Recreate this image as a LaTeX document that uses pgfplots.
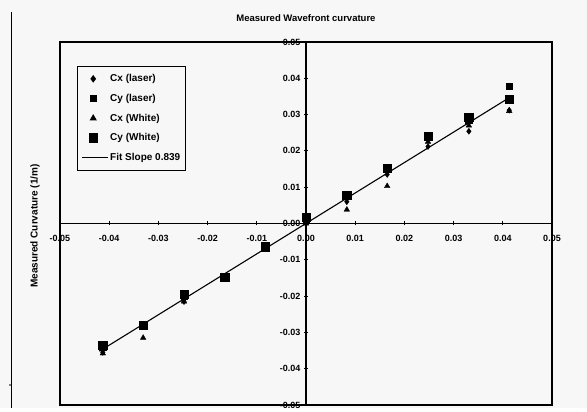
\documentclass[border=0pt]{standalone}
\usepackage{pgfplots}
\pgfplotsset{compat=1.18}
\usetikzlibrary{calc,backgrounds}
\usepackage{fontspec}
\setmainfont{Liberation Sans}
\pgfplotsset{myleg/.style={legend image code/.code={\draw[mark repeat=2,mark phase=2,##1] plot coordinates {(0pt,0pt) (11pt,0pt) (26pt,0pt)};}}}
\begin{document}
\begin{tikzpicture}[x=1pt,y=1pt]
\begin{axis}[
  scale only axis, width=492pt, height=363pt,
  xmin=-0.05, xmax=0.05, ymin=-0.05, ymax=0.05,
  axis lines=middle,
  axis line style={-, line width=1.2pt},
  axis background/.style={draw=black, line width=1.2pt},
  xtick={-0.05,-0.04,...,0.05}, ytick={-0.05,-0.04,...,0.05},
  hide obscured x ticks=false, hide obscured y ticks=false,
  tick align=center, major tick length=4pt,
  tick style={line width=0.8pt, black},
  xticklabel style={yshift=-6pt, /pgf/number format/.cd, fixed, fixed zerofill, precision=2, assume math mode=true},
  yticklabel style={/pgf/number format/.cd, fixed, fixed zerofill, precision=2, assume math mode=true},
  scaled ticks=false,
  tick label style={font=\fontsize{9}{10}\selectfont\bfseries},
  legend style={at={(0.035,0.934)}, anchor=north west, draw=black, line width=1pt,
    font=\fontsize{10}{11}\selectfont\bfseries, fill=black!3, row sep=9pt,
    inner xsep=4pt, inner ysep=7pt,
    nodes={inner xsep=1.5pt, inner ysep=1pt}},
  legend cell align=left,
  legend image post style={line width=1pt},
  clip=false,
]
\coordinate (FSW) at (rel axis cs:0,0);
\addplot[only marks, myleg, mark=diamond*, mark size=3pt, black] coordinates {
(-0.0413,-0.0355) (-0.0331,-0.0283) (-0.0248,-0.0215) (-0.0165,-0.0148) (-0.0083,-0.0068)
(0,0.0005) (0.0083,0.0060) (0.0165,0.0135) (0.0248,0.0212) (0.0331,0.0254) (0.0413,0.0312)};
\addlegendentry{Cx (laser)}
\addplot[only marks, myleg, mark=square*, mark size=3.2pt, black] coordinates {
(-0.0413,-0.0340) (-0.0331,-0.0280) (-0.0248,-0.0200) (-0.0165,-0.0150) (-0.0083,-0.0066)
(0,0.0010) (0.0083,0.0078) (0.0165,0.0155) (0.0248,0.0238) (0.0331,0.0285) (0.0413,0.0378)};
\addlegendentry{Cy (laser)}
\addplot[only marks, myleg, mark=triangle*, mark size=3.2pt, black] coordinates {
(-0.0413,-0.0358) (-0.0331,-0.0315) (-0.0248,-0.0215) (-0.0165,-0.0150) (-0.0083,-0.0072)
(0,0.0000) (0.0083,0.0038) (0.0165,0.0103) (0.0248,0.0225) (0.0331,0.0270) (0.0413,0.0310)};
\addlegendentry{Cx (White)}
\addplot[only marks, myleg, mark=square*, mark size=4.2pt, black] coordinates {
(-0.0413,-0.0335) (-0.0331,-0.0280) (-0.0248,-0.0195) (-0.0165,-0.0148) (-0.0083,-0.0064)
(0,0.0018) (0.0083,0.0078) (0.0165,0.0152) (0.0248,0.0240) (0.0331,0.0292) (0.0413,0.0342)};
\addlegendentry{Cy (White)}
\addplot[no markers, myleg, black, line width=1.1pt] coordinates {(-0.0420,-0.0352) (0.0410,0.0344)};
\addlegendentry{Fit Slope 0.839}
\end{axis}
\coordinate (O) at ($(FSW)+(-60,-3)$);
\path[use as bounding box] (O) rectangle ($(O)+(587,408)$);
\begin{scope}[on background layer]
\fill[black!3] (O) rectangle ($(O)+(587,408)$);
\end{scope}
\draw[line width=1pt] ($(O)+(12,396)$) -- ($(O)+(12,0)$);
\fill ($(O)+(10,23)$) circle (0.8);
\node[font=\fontsize{9.5}{10}\selectfont\bfseries] at ($(O)+(306,390)$) {Measured Wavefront curvature};
\node[font=\fontsize{10}{11}\selectfont\bfseries, rotate=90] at ($(O)+(35,182)$) {Measured Curvature (1/m)};
\end{tikzpicture}
\end{document}
